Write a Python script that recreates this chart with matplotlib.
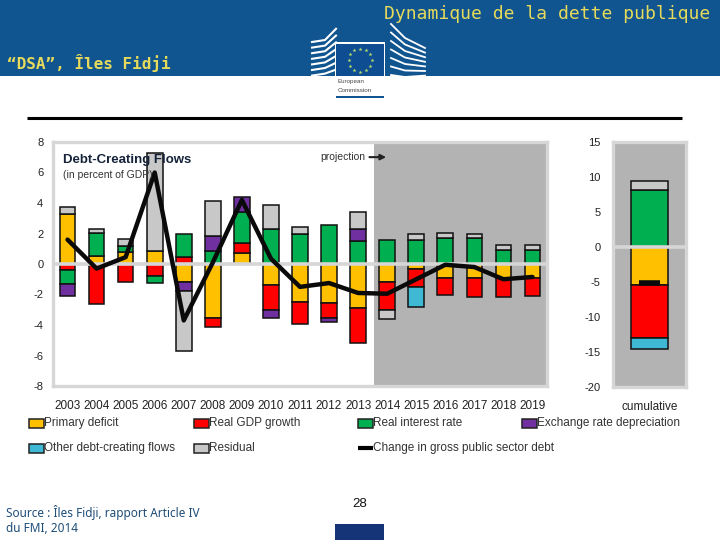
import matplotlib
matplotlib.use('Agg')
import matplotlib.pyplot as plt
from matplotlib.patches import Rectangle
import numpy as np

years = [str(y) for y in range(2003, 2020)]
primary = [3.3, 0.5, 0.8, 0.85, -1.15, -3.55, 0.7, -1.4, -2.5, -2.55, -2.9, -1.2, -0.35, -0.9, -0.9, -0.9, -0.9]
gdp = [-0.4, -2.65, -1.2, -0.8, 0.45, -0.55, 0.7, -1.6, -1.45, -1.0, -2.3, -1.8, -1.15, -1.1, -1.25, -1.25, -1.2]
interest = [-0.9, 1.55, 0.35, -0.45, 1.55, 0.85, 2.0, 2.3, 1.95, 2.55, 1.5, 1.6, 1.6, 1.7, 1.7, 0.9, 0.9]
exchange = [-0.8, 0, 0, 0, -0.6, 1.0, 1.0, -0.55, 0, -0.25, 0.8, 0, 0, 0, 0, 0, 0]
other = [0, 0, 0, 0, 0, 0, 0, 0, 0, 0, 0, 0, -1.3, 0, 0, 0, 0]
residual = [0.45, 0.25, 0.5, 6.4, -3.95, 2.3, 0, 1.6, 0.45, 0, 1.1, -0.6, 0.35, 0.35, 0.25, 0.35, 0.35]
change = [1.6, -0.3, 0.45, 6.0, -3.7, 0.1, 4.2, 0.35, -1.5, -1.25, -1.9, -1.95, -1.0, -0.05, -0.2, -1.0, -0.85]

cum_primary = -5.4
cum_gdp = -7.6
cum_interest = 8.1
cum_other = -1.5
cum_residual = 1.4
cum_change = -5.1

left_ticks = [8, 6, 4, 2, 0, -2, -4, -6, -8]
right_ticks = [15, 10, 5, 0, -5, -10, -15, -20]

names = ['Primary deficit', 'Real GDP growth', 'Real interest rate', 'Exchange rate depreciation',
         'Other debt-creating flows', 'Residual']
colors = ['#ffc000', '#ff0000', '#00b050', '#7030a0', '#3fb8d4', '#c8c8c8']

W, H = 720, 540
BLUE = '#10558f'
YELLOW = '#e6da5c'
FRAME = '#d6d6d6'
GREYBG = '#b3b3b3'
narrow = ['Liberation Sans Narrow', 'Liberation Sans', 'DejaVu Sans']

plt.rcParams['font.family'] = 'DejaVu Sans'
fig = plt.figure(figsize=(7.2, 5.4), dpi=100, facecolor='white')


def px_axes(x0, y0, x1, y1):
    return fig.add_axes([x0 / W, 1 - y1 / H, (x1 - x0) / W, (y1 - y0) / H])


def stack(ax, x, vals, width):
    up = 0
    down = 0
    for v, c in zip(vals, colors):
        if v > 0:
            ax.bar(x, v, width, bottom=up, color=c, edgecolor='#111111', linewidth=1.1, zorder=3)
            up += v
        elif v < 0:
            ax.bar(x, v, width, bottom=down, color=c, edgecolor='#111111', linewidth=1.1, zorder=3)
            down += v


def style(ax):
    for s in ax.spines.values():
        s.set_color(FRAME)
        s.set_linewidth(2.4)
    ax.axhline(0, color=FRAME, lw=2.6, zorder=4)
    ax.tick_params(axis='y', length=0, labelsize=8, labelcolor='#222222')
    ax.tick_params(axis='x', length=0, labelsize=8.5, labelcolor='#222222')
    for t in ax.get_xticklabels() + ax.get_yticklabels():
        t.set_fontfamily(narrow)


# main panel
ax = px_axes(53, 142, 547, 386)
ax.set_xlim(-0.5, 16.5)
ax.set_ylim(-8, 8)
ax.axvspan(10.56, 16.5, color=GREYBG, lw=0, zorder=1)
for i in range(len(years)):
    stack(ax, i, [primary[i], gdp[i], interest[i], exchange[i], other[i], residual[i]], 0.54)
ax.plot(range(len(years)), change, color='#0a0a0a', lw=3.2, solid_joinstyle='round',
        solid_capstyle='round', zorder=5)
ax.set_xticks(range(len(years)), years)
ax.set_yticks(left_ticks, [str(t) for t in left_ticks])
ax.tick_params(axis='y', pad=7)
ax.tick_params(axis='x', pad=10)
style(ax)
ax.text(0.02, 0.925, 'Debt-Creating Flows', transform=ax.transAxes, family=narrow, weight='bold',
        fontsize=9.5, color='#15233a', va='center', zorder=6)
ax.text(0.02, 0.865, '(in percent of GDP)', transform=ax.transAxes, family=narrow,
        fontsize=7.5, color='#333333', va='center', zorder=6)
ax.annotate('', xy=(0.68, 0.938), xytext=(0.635, 0.938), xycoords='axes fraction',
            arrowprops=dict(arrowstyle='-|>', color='#222222', lw=1.5, mutation_scale=8), zorder=6)
ax.text(0.542, 0.938, 'projection', transform=ax.transAxes, family=narrow,
        fontsize=7.5, color='#333333', va='center', zorder=6)

# cumulative panel
ax2 = px_axes(613, 142, 686, 387)
ax2.set_facecolor(GREYBG)
ax2.set_xlim(-1, 1)
ax2.set_ylim(-20, 15)
stack(ax2, 0, [cum_primary, cum_gdp, cum_interest, 0, cum_other, cum_residual], 1.0)
ax2.plot([-0.3, 0.3], [cum_change, cum_change], color='#0a0a0a', lw=4, solid_capstyle='butt', zorder=5)
ax2.set_xticks([0], ['cumulative'])
ax2.set_yticks(right_ticks, [str(t) for t in right_ticks])
ax2.tick_params(axis='y', pad=9)
ax2.tick_params(axis='x', pad=10)
style(ax2)

# slide furniture in pixel coordinates
ov = fig.add_axes([0, 0, 1, 1], facecolor='none', zorder=10)
ov.set_xlim(0, W)
ov.set_ylim(H, 0)
ov.axis('off')
ov.add_patch(Rectangle((0, 0), W, 76, color=BLUE, lw=0))
ov.plot([27, 682], [118, 118], color='black', lw=2.2, solid_capstyle='butt')
ov.text(710, 14, 'Dynamique de la dette publique', color=YELLOW, family='DejaVu Sans Mono',
        fontsize=13, ha='right', va='center')
ov.text(7, 63, '“DSA”, Îles Fidji', color=YELLOW, family='DejaVu Sans Mono', fontsize=11.5,
        weight='bold', va='center')

# logo
for k in range(7):
    y = 40 + k * 5.6
    ov.plot([312, 325, 336], [y + 2, y, y - 4 - (6 - k) * 1.2], color='white', lw=1.5)
    ov.plot([391, 405, 425], [24 + k * 8.5, 38 + k * 6.5, 48 + k * 4.6], color='white', lw=1.3)
ov.add_patch(Rectangle((335, 42), 50, 56, color='white', lw=0, zorder=3))
ov.add_patch(Rectangle((336, 44), 48, 32, color='#0f4d92', lw=0, zorder=4))
ang = np.arange(12) * np.pi / 6
ov.scatter(360 + 11.5 * np.cos(ang), 60 + 11.5 * np.sin(ang), marker='*', s=9, color='#b5e06a',
           lw=0, zorder=5)
ov.text(338, 81, 'European', fontsize=4.5, color='#444444', va='center', family=narrow, zorder=5)
ov.text(338, 90, 'Commission', fontsize=4.5, color='#444444', va='center', family=narrow, zorder=5)
ov.add_patch(Rectangle((336, 96), 48, 2, color=BLUE, lw=0, zorder=5))

# legend
leg_pos = [(29, 423), (194, 423), (358, 423), (522, 423), (29, 448), (194, 448)]
for (x, y), n, c in zip(leg_pos, names, colors):
    ov.add_patch(Rectangle((x, y - 4), 15, 9, facecolor=c, edgecolor='#222222', lw=1.1))
    ov.text(x + 15, y, n, family=narrow, fontsize=8.5, color='#333333', va='center')
ov.plot([358, 373], [448, 448], color='black', lw=3, solid_capstyle='butt')
ov.text(373, 448, 'Change in gross public sector debt', family=narrow, fontsize=8.5,
        color='#333333', va='center')

ov.text(6, 513, 'Source : Îles Fidji, rapport Article IV', color='#1f4e79', fontsize=8.5,
        va='center', weight='bold', family='Noto Sans')
ov.text(6, 528, 'du FMI, 2014', color='#1f4e79', fontsize=8.5, va='center', weight='bold', family='Noto Sans')
ov.text(360, 504, '28', fontsize=9.5, family=['Liberation Sans', 'DejaVu Sans'], ha='center', va='center',
        color='#111111')
ov.add_patch(Rectangle((335, 524), 49, 16, color='#143477', lw=0))

fig.savefig('out.png', dpi=100)
